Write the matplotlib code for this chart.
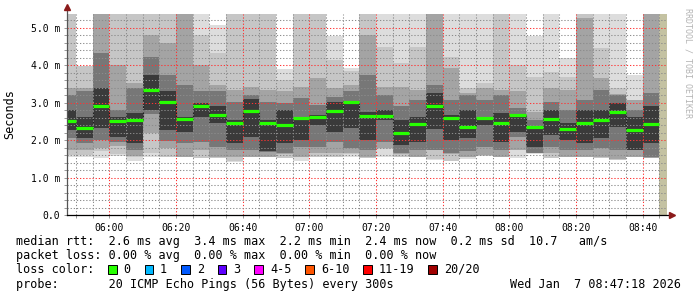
import numpy as np
import matplotlib
matplotlib.use("Agg")
from matplotlib import pyplot as plt
from matplotlib.patches import Rectangle
from matplotlib.ticker import MultipleLocator, FuncFormatter

plt.rcParams['font.family'] = ['DejaVu Sans Mono']

W, H = 697, 297

# time in minutes relative to 06:00, one step = 5 minutes, first step starts 05:45
t_first = -15
t_step = 5
t_left = -12.7    # 05:47:18
t_right = 167.3   # 08:47:18
t_unknown = 165   # 08:45, last interval without data
y_top = 5.37

# median rtt per step (ms)
median = [2.50, 2.32, 2.92, 2.52, 2.55, 3.34, 3.02, 2.56, 2.91, 2.67,
          2.45, 2.77, 2.45, 2.40, 2.59, 2.63, 2.79, 3.03, 2.65, 2.65,
          2.20, 2.42, 2.91, 2.59, 2.34, 2.58, 2.47, 2.66, 2.36, 2.57,
          2.29, 2.47, 2.55, 2.76, 2.28, 2.42]

# smoke: upper / lower edge of the ping pairs, outer pair first (ms)
smoke_hi = [
    [5.4, 5.4, 3.40, 3.20, 2.81], [3.97, 3.97, 3.40, 3.30, 2.62],
    [5.4, 5.4, 5.4, 4.33, 3.40], [5.4, 5.4, 4.00, 2.81, 2.63],
    [5.4, 5.4, 3.52, 3.39, 2.72], [5.4, 5.4, 4.81, 4.23, 3.75],
    [5.4, 5.4, 4.59, 3.75, 3.30], [5.4, 5.4, 5.4, 3.48, 2.63],
    [5.4, 4.81, 4.00, 3.30, 3.00], [5.08, 4.32, 3.48, 3.30, 2.90],
    [5.4, 5.4, 3.34, 3.03, 2.54], [5.4, 5.4, 3.43, 3.20, 3.10],
    [5.4, 5.4, 3.34, 3.03, 2.54], [3.90, 3.60, 3.30, 2.98, 2.81],
    [5.4, 5.4, 3.43, 3.12, 2.63], [5.4, 5.4, 3.65, 2.94, 2.67],
    [4.77, 4.14, 3.39, 3.16, 3.03], [3.92, 3.85, 3.48, 3.30, 3.05],
    [5.4, 5.4, 4.81, 3.74, 2.76], [5.4, 4.50, 3.43, 3.21, 2.81],
    [5.4, 4.05, 3.43, 2.90, 2.54], [5.4, 4.50, 3.34, 3.07, 2.63],
    [5.4, 5.4, 5.4, 3.48, 3.25], [5.4, 4.23, 3.92, 3.07, 2.67],
    [5.4, 3.40, 3.25, 3.21, 2.81], [5.4, 3.52, 3.39, 3.07, 2.63],
    [5.4, 5.4, 3.34, 3.21, 2.72], [5.4, 4.01, 3.30, 2.85, 2.67],
    [4.77, 3.70, 2.76, 2.54, 2.36], [5.4, 3.83, 3.39, 3.03, 2.81],
    [4.19, 3.70, 3.34, 2.81, 2.45], [5.4, 5.4, 5.26, 3.07, 2.81],
    [5.4, 4.46, 3.65, 3.34, 2.81], [5.4, 3.39, 3.22, 3.21, 2.98],
    [3.74, 3.07, 3.06, 2.81, 2.63], [5.4, 5.4, 5.4, 3.25, 2.90],
]
smoke_lo = [
    [1.56, 1.60, 1.74, 2.05, 2.27], [1.56, 1.60, 1.74, 1.92, 2.05],
    [1.52, 1.70, 1.78, 2.00, 2.32], [1.58, 1.62, 1.85, 1.95, 2.08],
    [1.43, 1.54, 1.58, 1.74, 1.92], [1.56, 1.65, 2.18, 2.70, 2.81],
    [1.55, 1.56, 1.78, 1.98, 2.28], [1.55, 1.55, 1.56, 1.92, 2.22],
    [1.51, 1.52, 1.74, 1.96, 2.63], [1.51, 1.52, 1.56, 1.83, 2.45],
    [1.42, 1.43, 1.56, 1.74, 1.92], [1.55, 1.555, 1.56, 1.74, 2.09],
    [1.55, 1.555, 1.56, 1.68, 1.70], [1.51, 1.52, 1.64, 1.65, 1.92],
    [1.43, 1.55, 1.56, 1.83, 2.00], [1.55, 1.56, 1.65, 1.83, 2.41],
    [1.55, 1.56, 1.65, 1.96, 2.23], [1.56, 1.64, 1.65, 1.78, 2.32],
    [1.51, 1.52, 1.56, 1.74, 2.00], [1.56, 1.77, 1.78, 1.96, 2.54],
    [1.55, 1.56, 1.64, 1.65, 1.87], [1.55, 1.555, 1.56, 1.74, 1.96],
    [1.47, 1.50, 1.73, 1.74, 2.30], [1.43, 1.44, 1.64, 1.65, 2.00],
    [1.49, 1.55, 1.56, 1.70, 2.05], [1.58, 1.585, 1.59, 1.83, 2.41],
    [1.55, 1.555, 1.56, 1.74, 1.96], [1.52, 1.73, 1.74, 2.09, 2.23],
    [1.64, 1.645, 1.65, 1.655, 1.83], [1.52, 1.53, 1.65, 1.83, 2.14],
    [1.55, 1.555, 1.56, 1.74, 2.00], [1.55, 1.555, 1.56, 1.74, 1.92],
    [1.52, 1.53, 1.56, 1.78, 2.05], [1.47, 1.48, 1.49, 1.74, 2.36],
    [1.55, 1.555, 1.56, 1.735, 1.74], [1.51, 1.52, 1.53, 1.56, 1.92],
]
shades = ['#dddddd', '#c6c6c6', '#a4a4a4', '#777777', '#3a3a3a']

rtt_line = "median rtt:  2.6 ms avg  3.4 ms max  2.2 ms min  2.4 ms now  0.2 ms sd  10.7   am/s"
loss_line = "packet loss: 0.00 % avg  0.00 % max  0.00 % min  0.00 % now"
probe_line = "probe:       20 ICMP Echo Pings (56 Bytes) every 300s"
stamp = "Wed Jan  7 08:47:18 2026"
loss_labels = ['0', '1', '2', '3', '4-5', '6-10', '11-19', '20/20']
loss_colors = ['#26ff00', '#00b8ff', '#0059ff', '#5e00ff', '#ff00ff',
               '#ff5500', '#ff0000', '#a00000']


def fx(x):
    return x / W


def fy(y):
    return 1 - y / H


fig = plt.figure(figsize=(W / 100, H / 100), dpi=100)
ax = fig.add_axes([fx(67), fy(215), fx(667) - fx(67), fy(14) - fy(215)])

edges = t_first + t_step * np.arange(len(median) + 1)
hi = np.array(smoke_hi)
lo = np.array(smoke_lo)
for k in range(hi.shape[1]):
    ax.stairs(hi[:, k], edges, baseline=lo[:, k], fill=True,
              color=shades[k], lw=0, zorder=1)

ax.axvspan(t_unknown, t_right, color='#c4c2a2', lw=0, zorder=1)

ax.stairs(median, edges, baseline=None, color='#202020', lw=0.8, zorder=2)
ax.hlines(median, edges[:-1], edges[1:], color='#26ff00', lw=2.3, zorder=4)

ax.set_xlim(t_left, t_right)
ax.set_ylim(0, y_top)

ax.xaxis.set_major_locator(MultipleLocator(20))
ax.xaxis.set_minor_locator(MultipleLocator(5))
ax.yaxis.set_major_locator(MultipleLocator(1))
ax.yaxis.set_minor_locator(MultipleLocator(0.2))
ax.xaxis.set_major_formatter(FuncFormatter(
    lambda v, p: "%02d:%02d" % divmod(int(round(v)) + 360, 60)))
ax.yaxis.set_major_formatter(FuncFormatter(
    lambda v, p: "0.0" if abs(v) < 1e-9 else "%.1f m" % v))

ax.set_axisbelow(False)
ax.grid(which='minor', color=(0.55, 0.55, 0.55, 0.55), lw=0.75,
        linestyle=(0, (1.2, 1.8)))
ax.grid(which='major', color=(1.0, 0.2, 0.2, 0.5), lw=0.75,
        linestyle=(0, (1.2, 1.8)))
ax.tick_params(which='both', length=2, width=0.6, color='#888888',
               labelsize=7, pad=3)
ax.tick_params(axis='x', which='major', pad=4)

for s in ['top', 'right', 'left', 'bottom']:
    ax.spines[s].set_visible(False)
# axes lines with rrdtool arrows
ax.plot([0, 0], [0, 1.03], transform=ax.transAxes, color='#555555',
        lw=0.9, clip_on=False, zorder=5)
ax.plot([0, 1.005], [0, 0], transform=ax.transAxes, color='black',
        lw=0.9, clip_on=False, zorder=5)
ax.plot([0], [1.035], marker='^', ms=4, color='#8b1a1a',
        transform=ax.transAxes, clip_on=False, zorder=6)
ax.plot([1.008], [0], marker='>', ms=4, color='#8b1a1a',
        transform=ax.transAxes, clip_on=False, zorder=6)

fig.text(fx(10), fy(114), "Seconds", rotation=90, fontsize=8.5,
         ha='center', va='center')
fig.text(fx(688), fy(8), "RRDTOOL / TOBI OETIKER", rotation=270,
         fontsize=6, color='#b4b4b4', ha='center', va='top')

# legend
cw = 7.12
fig.text(fx(16), fy(245), rtt_line, fontsize=8.5, va='baseline')
fig.text(fx(16), fy(259), loss_line, fontsize=8.5, va='baseline')
fig.text(fx(16), fy(273), "loss color:", fontsize=8.5, va='baseline')
fig.text(fx(16), fy(288), probe_line, fontsize=8.5, va='baseline')
fig.text(fx(681), fy(288), stamp, fontsize=8.5, va='baseline', ha='right')

bx = 108
for lab, col in zip(loss_labels, loss_colors):
    fig.patches.append(Rectangle((fx(bx), fy(274)), 8.5 / W, 9 / H,
                                 transform=fig.transFigure, facecolor=col,
                                 edgecolor='black', lw=0.7))
    tx = bx + 15.5
    fig.text(fx(tx), fy(273), lab, fontsize=8.5, va='baseline')
    bx = tx + len(lab) * cw + 14

fig.savefig("out.png", dpi=100)
